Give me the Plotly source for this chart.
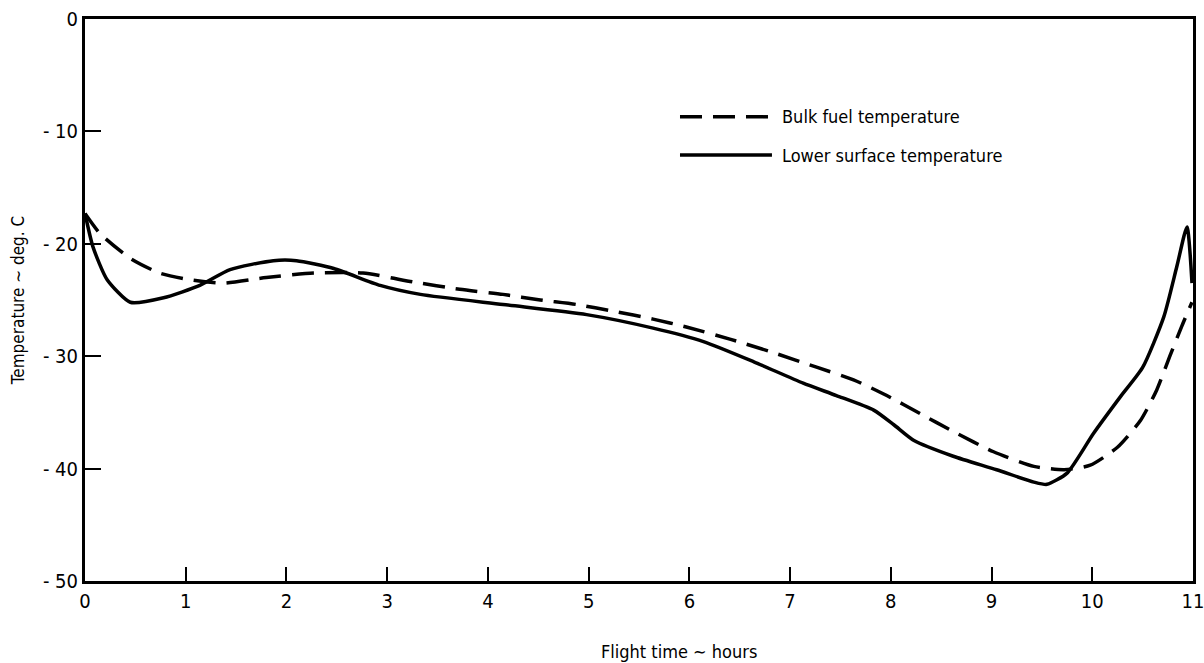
import plotly.graph_objects as go

# Flight time (hours) and temperatures (deg C)
bulk_x = [0.0, 0.15, 0.45, 0.74, 1.04, 1.37, 1.80, 2.27, 2.76, 3.26, 3.72, 4.15, 4.52,
          4.88, 5.25, 5.64, 5.97, 6.41, 6.84, 7.27, 7.63, 7.96, 8.29, 8.62, 9.02, 9.42,
          9.72, 9.98, 10.25, 10.48, 10.64, 10.77, 10.89, 10.99]
bulk_y = [-17.3, -19.1, -21.3, -22.6, -23.2, -23.5, -23.0, -22.6, -22.6, -23.4, -24.05, -24.5, -25.0,
          -25.4, -26.0, -26.7, -27.4, -28.5, -29.7, -31.0, -32.1, -33.5, -35.1, -36.7, -38.5, -39.8,
          -40.1, -39.7, -38.1, -35.7, -33.0, -30.0, -27.3, -25.2]

surf_x = [0.0, 0.08, 0.22, 0.45, 0.78, 1.14, 1.44, 1.87, 2.10, 2.47, 2.93, 3.33, 4.15,
          4.98, 5.64, 6.14, 6.64, 7.13, 7.46, 7.83, 8.03, 8.23, 8.62, 9.05, 9.42, 9.55,
          9.75, 10.01, 10.28, 10.50, 10.71, 10.84, 10.94, 10.99]
surf_y = [-17.3, -20.3, -23.2, -25.2, -24.8, -23.7, -22.3, -21.5, -21.5, -22.2, -23.7, -24.5, -25.4,
          -26.3, -27.5, -28.7, -30.5, -32.4, -33.5, -34.8, -36.1, -37.5, -38.9, -40.1, -41.2, -41.4,
          -40.4, -36.9, -33.6, -31.0, -26.5, -22.0, -18.5, -23.5]

x_ticks = [0, 1, 2, 3, 4, 5, 6, 7, 8, 9, 10, 11]
y_ticks = [0, -10, -20, -30, -40, -50]
y_tick_text = ["0", "- 10", "- 20", "- 30", "- 40", "- 50"]

legend_names = ["Bulk fuel temperature", "Lower surface temperature"]
x_title = "Flight time ∼ hours"
y_title = "Temperature ∼ deg. C"

FONT = "Liberation Sans Narrow, DejaVu Sans Condensed, Roboto Condensed, Arial Narrow, sans-serif"
DASH = "22px,11px"

fig = go.Figure()
fig.add_trace(go.Scatter(x=bulk_x, y=bulk_y, mode="lines", name=legend_names[0],
                         line=dict(color="black", width=3.5, dash=DASH, shape="spline", smoothing=0.6),
                         showlegend=False))
fig.add_trace(go.Scatter(x=surf_x, y=surf_y, mode="lines", name=legend_names[1],
                         line=dict(color="black", width=3.5, shape="spline", smoothing=0.6),
                         showlegend=False))

# legend drawn as line samples + text
legend_rows = [(0.826, DASH, legend_names[0]), (0.758, "solid", legend_names[1])]
for yy, dash, name in legend_rows:
    fig.add_shape(type="line", xref="paper", yref="paper", x0=0.537, x1=0.620, y0=yy, y1=yy,
                  line=dict(color="black", width=3.5, dash=dash))
    fig.add_annotation(xref="paper", yref="paper", x=0.627, y=yy, text=name, showarrow=False,
                       xanchor="left", yanchor="middle",
                       font=dict(family=FONT, size=18, color="black"))

# x-axis title (sits right of centre in the reference)
fig.add_annotation(xref="paper", yref="paper", x=0.536, y=-0.126, text=x_title, showarrow=False,
                   xanchor="center", yanchor="middle", font=dict(family=FONT, size=18, color="black"))

fig.update_layout(
    width=1204, height=663,
    margin=dict(l=85, r=11, t=19, b=82),
    paper_bgcolor="white", plot_bgcolor="white",
    font=dict(family=FONT, size=20, color="black"),
    showlegend=False,
)
fig.update_xaxes(range=[0, 11], tickvals=x_ticks, ticks="inside", ticklen=14, tickwidth=2,
                 tickcolor="black", showline=True, linecolor="black", linewidth=3, mirror=True,
                 showgrid=False, zeroline=False, automargin=False, ticklabeloverflow="allow")
fig.update_yaxes(range=[-50, 0], tickvals=y_ticks, ticktext=y_tick_text, ticks="inside", ticklen=16,
                 tickwidth=2, tickcolor="black", showline=True, linecolor="black", linewidth=3,
                 mirror=True, showgrid=False, zeroline=False, automargin=False, ticklabeloverflow="allow",
                 title=dict(text=y_title, font=dict(family=FONT, size=17), standoff=14))

fig.write_html("out.html")
